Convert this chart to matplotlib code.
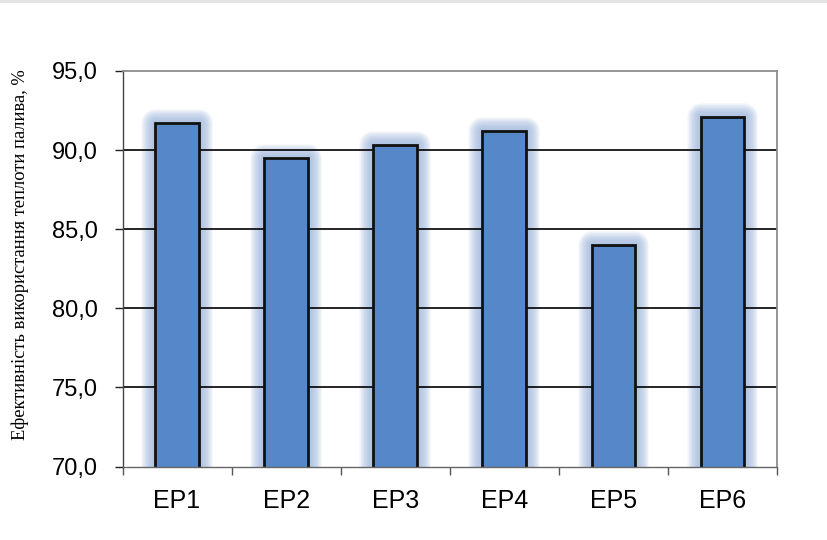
import matplotlib
matplotlib.use("Agg")
import matplotlib.pyplot as plt
import matplotlib.patheffects as pe
from matplotlib.patches import Rectangle

categories = ["EP1", "EP2", "EP3", "EP4", "EP5", "EP6"]
values = [91.7, 89.5, 90.3, 91.2, 84.0, 92.1]
yticks = [70, 75, 80, 85, 90, 95]
ytick_labels = ["70,0", "75,0", "80,0", "85,0", "90,0", "95,0"]
ylabel = "Ефективність використання теплоти палива, %"

W, H = 827, 540
fig = plt.figure(figsize=(W / 100, H / 100), dpi=100)
fig.patches.append(Rectangle((0, 1 - 3 / H), 1, 3 / H, transform=fig.transFigure,
                             facecolor="#e4e4e4", edgecolor="none"))

left, right, top, bottom = 122.5, 777, 71, 466.5
ax = fig.add_axes([left / W, 1 - bottom / H, (right - left) / W, (bottom - top) / H])
x = list(range(len(categories)))

# soft halo behind each column: many thin translucent strokes give a smooth falloff
glow_effects = [pe.Stroke(linewidth=lw, foreground="#9fb9df", alpha=0.075, joinstyle="round")
                for lw in range(20, 0, -1)]
ax.bar(x, values, width=0.40, color="#b9cde8", edgecolor="#b9cde8", linewidth=0.5,
       zorder=0.5, path_effects=glow_effects)

ax.bar(x, values, width=0.40, color="#5687c8", edgecolor="#111111", linewidth=2.0, zorder=2)

ax.set_ylim(70, 95)
ax.set_xlim(-0.5, len(categories) - 0.5)
ax.set_yticks(yticks)
ax.set_yticklabels(ytick_labels, fontfamily="Liberation Sans", fontsize=17)
for y in yticks[1:-1]:
    ax.axhline(y, color="black", linewidth=1.2, zorder=1)

ax.set_xticks(x)
ax.set_xticklabels(categories, fontfamily="Liberation Sans", fontsize=18)
ax.set_xticks([i + 0.5 for i in range(-1, len(categories))], minor=True)
ax.tick_params(axis="x", which="major", length=0, pad=16)
ax.tick_params(axis="x", which="minor", length=6, color="#555555", width=1.0, direction="out")
ax.tick_params(axis="y", which="major", length=6, color="#222222", width=1.0, direction="out", pad=12)

for side in ["top", "right"]:
    ax.spines[side].set_color("#8c8c8c")
    ax.spines[side].set_linewidth(1.3)
ax.spines["left"].set_color("#444444")
ax.spines["left"].set_linewidth(1.0)
ax.spines["bottom"].set_color("#666666")
ax.spines["bottom"].set_linewidth(1.0)

fig.text(20 / W, 1 - 255 / H, ylabel, rotation=90, ha="center", va="center",
         fontfamily="Liberation Serif", fontsize=13.3)

fig.savefig("out.png", dpi=100)
